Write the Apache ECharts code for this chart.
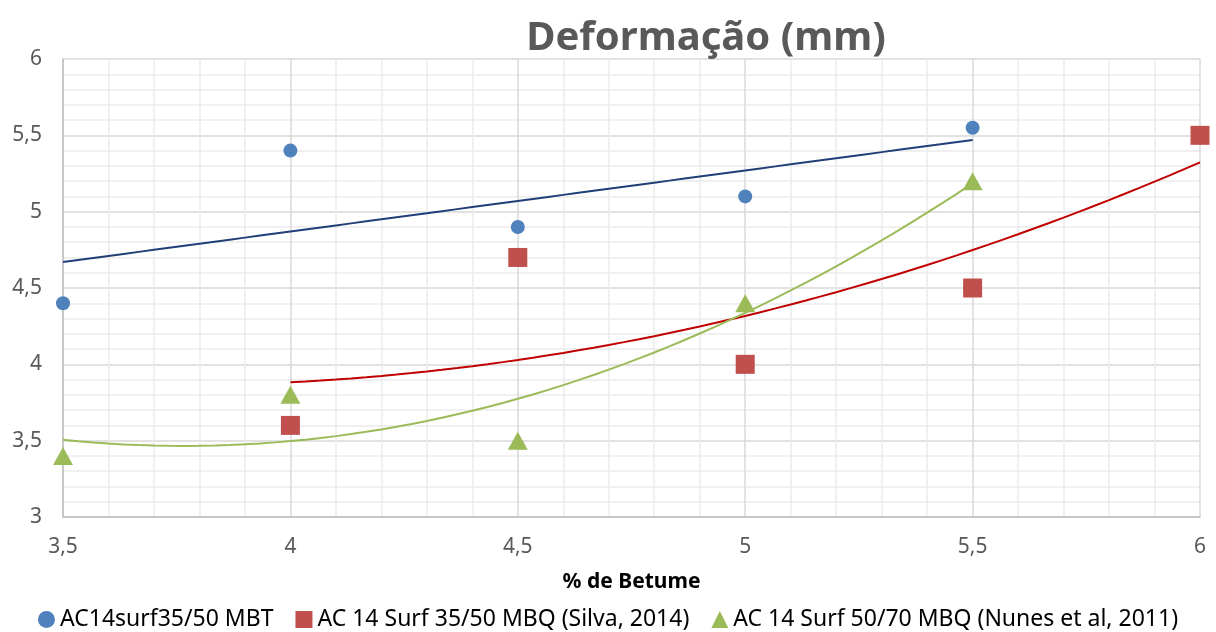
<!DOCTYPE html>
<html>
<head>
<meta charset="utf-8">
<script src="https://cdn.jsdelivr.net/npm/echarts@6/dist/echarts.min.js"></script>
<style>
  html, body { margin: 0; padding: 0; background: #fff; }
  #chart { width: 1216px; height: 632px; }
</style>
</head>
<body>
<div id="chart"></div>
<script>
// Bitumen content (%) and measured deformation (mm) for each mix
const betume = [3.5, 4, 4.5, 5, 5.5];
const betumeSilva = [4, 4.5, 5, 5.5, 6];
const mbt = [4.4, 5.4, 4.9, 5.1, 5.55];
const silva = [3.6, 4.7, 4.0, 4.5, 5.5];
const nunes = [3.4, 3.8, 3.5, 4.4, 5.2];

const seriesNames = [
  'AC14surf35/50 MBT',
  'AC 14 Surf 35/50 MBQ (Silva, 2014)',
  'AC 14 Surf 50/70 MBQ (Nunes et al, 2011)'
];

const FONT = 'Noto Sans';
const TXT = '#595959';

// Least-squares polynomial fit (degree 1 or 2) of y over x
function polyFit(xs, ys, deg) {
  const n = deg + 1;
  const A = [];
  for (let i = 0; i < n; i++) {
    A.push(new Array(n + 1).fill(0));
  }
  xs.forEach((x, k) => {
    for (let i = 0; i < n; i++) {
      for (let j = 0; j < n; j++) A[i][j] += Math.pow(x, i + j);
      A[i][n] += Math.pow(x, i) * ys[k];
    }
  });
  for (let i = 0; i < n; i++) {
    let p = i;
    for (let r = i + 1; r < n; r++) if (Math.abs(A[r][i]) > Math.abs(A[p][i])) p = r;
    [A[i], A[p]] = [A[p], A[i]];
    for (let r = 0; r < n; r++) {
      if (r === i) continue;
      const f = A[r][i] / A[i][i];
      for (let c = i; c <= n; c++) A[r][c] -= f * A[i][c];
    }
  }
  return A.map((row, i) => row[n] / row[i]);
}

// Trend line sampled across the range of the data
function trend(xs, ys, deg) {
  const c = polyFit(xs, ys, deg);
  const x0 = Math.min(...xs), x1 = Math.max(...xs);
  const pts = [];
  const steps = 60;
  for (let s = 0; s <= steps; s++) {
    const x = x0 + (x1 - x0) * s / steps;
    let y = 0;
    c.forEach((ci, i) => { y += ci * Math.pow(x, i); });
    pts.push([x, y]);
  }
  return pts;
}

const pairs = (xs, ys) => xs.map((x, i) => [x, ys[i]]);
const comma = v => String(v).replace('.', ',');

const chart = echarts.init(document.getElementById('chart'));
chart.setOption({
  animation: false,
  title: {
    text: 'Deformação (mm)',
    left: 701,
    textAlign: 'center',
    top: 14,
    textStyle: { fontFamily: FONT, fontSize: 40, fontWeight: 'bold', color: TXT }
  },
  grid: { left: 63, right: 16, top: 59, bottom: 115 },
  legend: {
    data: [
      { name: seriesNames[0], icon: 'circle' },
      { name: seriesNames[1], icon: 'rect' },
      { name: seriesNames[2], icon: 'triangle' }
    ],
    bottom: -4,
    left: 'center',
    itemWidth: 17,
    itemHeight: 17,
    itemGap: 22,
    textStyle: { fontFamily: FONT, fontSize: 23, color: '#000' }
  },
  xAxis: {
    type: 'value',
    min: 3.5,
    max: 6,
    interval: 0.5,
    name: '% de Betume',
    nameLocation: 'middle',
    nameGap: 55,
    nameTextStyle: { fontFamily: FONT, fontSize: 21, fontWeight: 'bold', color: '#000' },
    axisLine: { lineStyle: { color: '#bfbfbf', width: 1.5 } },
    axisTick: { show: false },
    axisLabel: { formatter: comma, fontFamily: FONT, fontSize: 21, color: TXT, margin: 20 },
    splitLine: { lineStyle: { color: '#d9d9d9', width: 1.5 } },
    minorTick: { show: false, splitNumber: 5 },
    minorSplitLine: { show: true, lineStyle: { color: '#ececec', width: 1.5 } }
  },
  yAxis: {
    type: 'value',
    min: 3,
    max: 6,
    interval: 0.5,
    axisLine: { show: true, lineStyle: { color: '#bfbfbf', width: 1.5 } },
    axisTick: { show: false },
    axisLabel: { formatter: comma, fontFamily: FONT, fontSize: 21, color: TXT, margin: 21 },
    splitLine: { lineStyle: { color: '#d9d9d9', width: 1.5 } },
    minorTick: { show: false, splitNumber: 5 },
    minorSplitLine: { show: true, lineStyle: { color: '#ececec', width: 1.5 } }
  },
  series: [
    {
      name: 'trend-mbt', type: 'line', data: trend(betume, mbt, 1),
      showSymbol: false, symbol: 'none', silent: true, z: 2,
      lineStyle: { color: '#203f77', width: 2 }
    },
    {
      name: 'trend-silva', type: 'line', data: trend(betumeSilva, silva, 2),
      showSymbol: false, symbol: 'none', silent: true, z: 2,
      lineStyle: { color: '#c00000', width: 2 }
    },
    {
      name: 'trend-nunes', type: 'line', data: trend(betume, nunes, 2),
      showSymbol: false, symbol: 'none', silent: true, z: 2,
      lineStyle: { color: '#9bbb59', width: 2 }
    },
    {
      name: seriesNames[0], type: 'scatter', data: pairs(betume, mbt),
      symbol: 'circle', symbolSize: 14, z: 5,
      itemStyle: { color: '#4f81bd', opacity: 1 }
    },
    {
      name: seriesNames[1], type: 'scatter', data: pairs(betumeSilva, silva),
      symbol: 'rect', symbolSize: 19, z: 5,
      itemStyle: { color: '#c0504d', opacity: 1 }
    },
    {
      name: seriesNames[2], type: 'scatter', data: pairs(betume, nunes),
      symbol: 'triangle', symbolSize: [20, 18], z: 5,
      itemStyle: { color: '#9bbb59', opacity: 1 }
    }
  ]
});
</script>
</body>
</html>
